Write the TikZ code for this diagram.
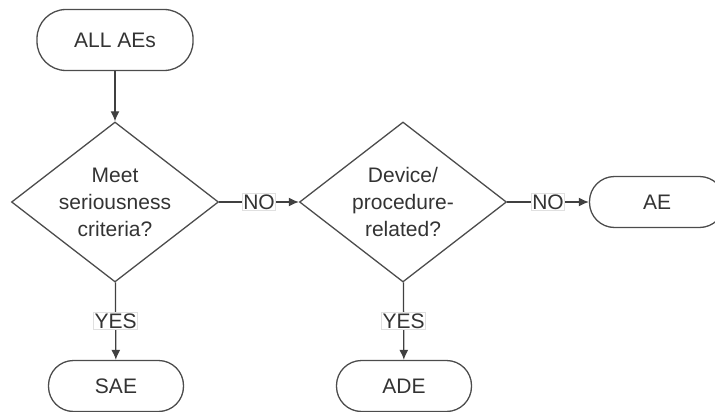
\documentclass[tikz,border=0pt]{standalone}
\usepackage{fontspec}
\setmainfont{Liberation Sans}
\usetikzlibrary{shapes}
\usetikzlibrary{arrows,arrows.meta}

\begin{document}
\begin{tikzpicture}[x=1pt,y=-1pt]
					\tikzstyle{every node}=[font=\fontsize{21}{27}\selectfont, text=black!80]
					\tikzstyle{term}=[rectangle, rounded corners=25pt, draw=black!70, line width=1.3pt, minimum width=135pt, minimum height=51pt]
					\tikzstyle{decision}=[diamond, draw=black!70, line width=1.3pt, shape aspect=1.3, minimum width=207pt, minimum height=160pt, inner sep=0pt, align=center]
					\tikzstyle{answer}=[fill=white, draw=black!12, line width=0.6pt, inner sep=1pt]
					\tikzstyle{flow}=[-{Latex[length=10pt,width=9pt]}, draw=black!75, line width=1.3pt]
					
					\useasboundingbox (0,0) rectangle (715,412);
					
					\node[term, minimum width=156pt, minimum height=61pt, rounded corners=29pt] (all) at (115,40) {ALL AEs};
					\node[decision] (serious) at (115,202) {Meet\\seriousness\\criteria?};
					\node[decision] (device) at (403,202) {Device/\\procedure-\\related?};
					\node[term] (sae) at (116,386) {SAE};
					\node[term] (ade) at (404,386) {ADE};
					\node[term] (ae) at (657,202) {AE};
					
					\draw[flow] (all) -- (serious);
					\draw[flow] (serious) -- node[answer] {NO} (device);
					\draw[flow] (device) -- node[answer] {NO} (ae);
					\draw[flow] (serious) -- node[answer] {YES} (sae);
					\draw[flow] (device) -- node[answer] {YES} (ade);
					
					\end{tikzpicture}
\end{document}
